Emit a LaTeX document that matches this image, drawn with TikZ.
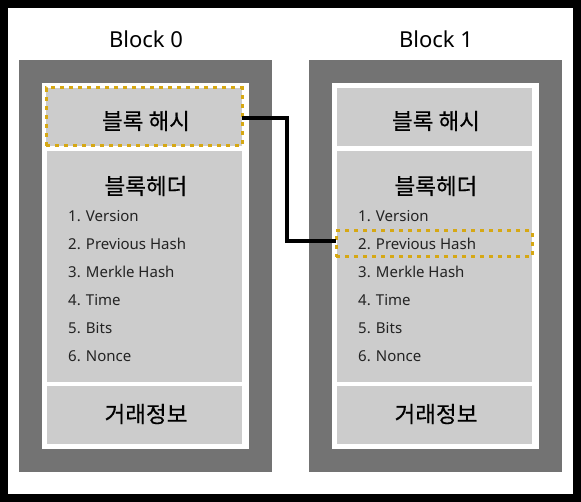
\documentclass[tikz,border=0pt]{standalone}
\usepackage{fontspec}
\setmainfont{Noto Sans}
\newfontfamily\kfont[FakeBold=0.4]{Noto Sans CJK KR}
\definecolor{darkgr}{RGB}{115,115,115}
\definecolor{lightgr}{RGB}{204,204,204}
\definecolor{gold}{RGB}{214,168,20}
\definecolor{txt}{RGB}{35,35,35}
\begin{document}
\begin{tikzpicture}[x=1pt,y=-1pt,
  box/.style={rectangle,inner sep=0pt,outer sep=0pt},
  outerbox/.style={box,fill=darkgr,minimum width=253pt,minimum height=412pt},
  whitebox/.style={box,fill=white,minimum width=207pt,minimum height=366pt},
  graybox/.style={box,fill=lightgr,minimum width=195pt},
  goldline/.style={draw=gold,line width=3pt,dash pattern=on 4pt off 5pt},
  title/.style={font=\fontsize{22}{26}\selectfont,anchor=base},
  ktitle/.style={font=\kfont\fontsize{22.5}{26}\selectfont},
  item/.style={font=\fontsize{15}{18}\selectfont,text=txt,anchor=base west,inner sep=0pt}]
\useasboundingbox (0,0) rectangle (581,502);
\draw[line width=8pt] (4,4) rectangle (577,498);
% Block 0
\node[title] (t0) at (146,48) {Block 0};
\node[outerbox] (o0) at (145.5,266) {};
\node[whitebox] (w0) at (145.5,266) {};
\node[graybox,minimum width=196pt,minimum height=58pt] (hash0) at (144,117) {};
\node[graybox,minimum height=231pt] (head0) at (144.5,266.5) {};
\node[graybox,minimum height=58pt] (tx0) at (144.5,415) {};
\node[box,goldline,minimum width=196pt,minimum height=58pt] (hd0) at (144,117) {};
\node[ktitle] (hl0) at (146,121) {블록 해시};
\node[ktitle] (hh0) at (146,186) {블록헤더};
\node[ktitle] (tl0) at (146,414) {거래정보};
\node[item] (a0) at (68,222) {1. Version};
\node[item] (b0) at (68,250) {2. Previous Hash};
\node[item] (c0) at (68,278) {3. Merkle Hash};
\node[item] (d0) at (68,306) {4. Time};
\node[item] (e0) at (68,334) {5. Bits};
\node[item] (f0) at (68,362) {6. Nonce};
% Block 1
\node[title] (t1) at (436,48) {Block 1};
\node[outerbox] (o1) at (435.5,266) {};
\node[whitebox] (w1) at (435.5,266) {};
\node[graybox,minimum height=58pt] (hash1) at (434.5,117) {};
\node[graybox,minimum height=231pt] (head1) at (434.5,266.5) {};
\node[graybox,minimum height=58pt] (tx1) at (434.5,415) {};
\node[box,goldline,minimum width=196pt,minimum height=26pt] (prev1) at (434,244) {};
\node[ktitle] (hl1) at (436,121) {블록 해시};
\node[ktitle] (hh1) at (436,186) {블록헤더};
\node[ktitle] (tl1) at (436,414) {거래정보};
\node[item] (a1) at (358,222) {1. Version};
\node[item] (b1) at (358,250) {2. Previous Hash};
\node[item] (c1) at (358,278) {3. Merkle Hash};
\node[item] (d1) at (358,306) {4. Time};
\node[item] (e1) at (358,334) {5. Bits};
\node[item] (f1) at (358,362) {6. Nonce};
% connector
\coordinate (cx) at (287,118);
\coordinate (cy) at (287,241.5);
\draw[line width=4pt] (hd0.east |- cx) -- (cx) -- (cy) -- (prev1.west |- cy);
\end{tikzpicture}
\end{document}
